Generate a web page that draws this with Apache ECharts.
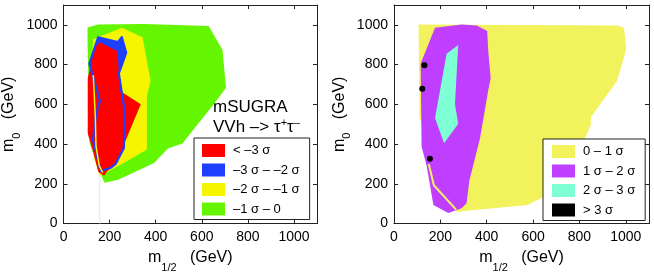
<!DOCTYPE html>
<html><head><meta charset="utf-8">
<script src="https://cdn.jsdelivr.net/npm/echarts@6/dist/echarts.min.js"></script>
<style>html,body{margin:0;padding:0;background:#fff}#c{width:654px;height:278px}</style>
</head><body><div id="c"></div>
<script>
// ---- tick labels ----
const xTicks = [0, 200, 400, 600, 800, 1000];
const yTicks = [0, 200, 400, 600, 800, 1000];

// ---- left panel: mSUGRA VVh -> tau tau (regions in m1/2, m0 GeV) ----
const leftNames = ['< –3 σ', '–3 σ – –2 σ', '–2 σ – –1 σ', '–1 σ – 0'];
const leftGreen = [[104,987],[150,1002],[349,1005],[630,994],[690,874],[705,683],[651,599],[539,437],[516,403],[453,378],[393,305],[237,221],[178,205],[164,241],[113,403],[104,928]];
const leftYellow = [[128,928],[254,985],[343,938],[378,717],[362,646],[362,373],[267,309],[185,257],[157,241],[129,339],[116,634]];
const leftBlue = [[150,937],[236,914],[253,938],[272,860],[240,756],[264,576],[262,380],[226,300],[205,281],[161,265],[128,421],[142,555],[158,617],[112,804]];
const leftRed = [[135,887],[157,912],[235,867],[244,668],[335,601],[270,420],[247,354],[221,290],[190,265],[176,241],[151,260],[126,373],[105,452],[105,732]];
const leftYellowLine = [[129,748],[138,535],[141,388],[155,290],[170,257]];
const leftFaintLine = [[157,0],[157,240]];

// ---- right panel ----
const rightNames = ['0 – 1 σ', '1 σ – 2 σ', '2 σ – 3 σ', '> 3 σ'];
const rightYellow = [[106,1002],[964,997],[992,986],[1002,879],[962,717],[849,535],[849,496],[777,306],[690,159],[575,93],[270,60],[110,535]];
const rightPurple = [[177,986],[292,1002],[357,997],[402,969],[407,863],[417,732],[407,674],[371,429],[325,216],[313,102],[292,77],[234,53],[170,93],[141,290],[119,388],[115,805]];
const rightCyan = [[227,855],[277,899],[263,601],[277,502],[216,404],[177,532]];
const rightDots = [[131,797],[122,679],[155,326]];
const rightYellowLine = [[150,300],[172,193],[268,70]];

const FONT = 'Liberation Sans, Arial, Helvetica, sans-serif';
const C = {
  red: '#ff0000', blue: '#1f3fff', yellow: '#f5f500', green: '#64f500',
  ryellow: '#f2f25c', purple: '#bf3eff', cyan: '#7fffd4', black: '#000000'
};

function poly(name, pts, color, ax, stroke) {
  return {
    type: 'custom', name: name, xAxisIndex: ax, yAxisIndex: ax,
    data: pts, silent: true, animation: false,
    itemStyle: { color: color },
    renderItem: function (params, api) {
      if (params.dataIndex !== 0) return;
      const points = pts.map(p => api.coord(p));
      return {
        type: 'polygon', shape: { points: points },
        style: stroke ? { fill: 'none', stroke: color, lineWidth: 2.2, lineJoin: 'round' }
                      : { fill: color }
      };
    }
  };
}
function line(pts, color, ax, w) {
  return { type: 'line', data: pts, xAxisIndex: ax, yAxisIndex: ax, showSymbol: false,
    silent: true, animation: false, lineStyle: { color: color, width: w } };
}

function xAx(grid, pos, withName) {
  const a = {
    gridIndex: grid, type: 'value', min: 0, max: 1100, interval: 200, position: pos,
    axisLine: { show: true, onZero: false, lineStyle: { color: '#222', width: 1 } },
    axisTick: { show: true, inside: true, length: 4, lineStyle: { color: '#222' } },
    splitLine: { show: false },
    axisLabel: { show: withName, margin: 7, fontSize: 14, fontFamily: FONT, color: '#000',
      formatter: v => xTicks.includes(v) ? String(v) : '' }
  };
  if (withName) {
    a.name = '{m|m}{s|1/2}{n|   (GeV)}';
    a.nameLocation = 'middle';
    a.nameGap = 16;
    a.nameTextStyle = { fontFamily: FONT, color: '#000', fontSize: 16,
      rich: { m: { fontSize: 16, fontFamily: FONT }, s: { fontSize: 11, fontFamily: FONT, padding: [20,0,0,0] },
              n: { fontSize: 16, fontFamily: FONT } } };
  }
  return a;
}
function yAx(grid, pos, withName) {
  const a = {
    gridIndex: grid, type: 'value', min: 0, max: 1100, interval: 200, position: pos,
    axisLine: { show: true, onZero: false, lineStyle: { color: '#222', width: 1 } },
    axisTick: { show: true, inside: true, length: 4, lineStyle: { color: '#222' } },
    splitLine: { show: false },
    axisLabel: { show: withName, margin: 6, fontSize: 14, fontFamily: FONT, color: '#000',
      formatter: v => yTicks.includes(v) ? String(v) : '' }
  };
  if (withName) {
    a.name = '{m|m}{s|0}{n|   (GeV)}';
    a.nameLocation = 'middle';
    a.nameGap = 33;
    a.nameTextStyle = { fontFamily: FONT, color: '#000', fontSize: 16,
      rich: { m: { fontSize: 16, fontFamily: FONT }, s: { fontSize: 11, fontFamily: FONT, padding: [16,0,0,0] },
              n: { fontSize: 16, fontFamily: FONT } } };
  }
  return a;
}

function legendCfg(names, colors, left, top, pad) {
  return {
    orient: 'vertical', left: left, top: top, icon: 'rect',
    itemWidth: 23, itemHeight: 13, itemGap: 6.5, selectedMode: false,
    data: names.map((n, i) => ({ name: n, itemStyle: { color: colors[i], opacity: 1 } })),
    backgroundColor: '#fff', borderColor: '#222', borderWidth: 1, borderRadius: 0,
    padding: pad,
    textStyle: { fontFamily: FONT, fontSize: 13, color: '#000', padding: [0,0,0,3] }
  };
}

const chart = echarts.init(document.getElementById('c'), null, { renderer: 'canvas' });
chart.setOption({
  animation: false,
  grid: [
    { left: 62, top: 5, width: 255, height: 224 },
    { left: 394, top: 5, width: 255, height: 224 }
  ],
  xAxis: [xAx(0, 'bottom', true), xAx(0, 'top', false), xAx(1, 'bottom', true), xAx(1, 'top', false)],
  yAxis: [yAx(0, 'left', true), yAx(0, 'right', false), yAx(1, 'left', true), yAx(1, 'right', false)],
  legend: [
    legendCfg(leftNames, [C.red, C.blue, C.yellow, C.green], 194, 138, [6, 10, 4, 8]),
    legendCfg(rightNames, [C.ryellow, C.purple, C.cyan, C.black], 543, 139, [6, 10, 4, 9])
  ],
  graphic: [
    { type: 'text', left: 213, top: 99, silent: true,
      style: { text: 'mSUGRA', fontSize: 17, fontFamily: FONT, fill: '#000' } },
    { type: 'text', left: 213, top: 117, silent: true,
      style: { text: 'VVh –> τ{sup|+}τ{sup|–}', fontSize: 17, fontFamily: FONT, fill: '#000',
        rich: { sup: { fontSize: 11, fontFamily: FONT, padding: [0,0,9,0] } } } }
  ],
  series: [
    line(leftFaintLine, '#dfe3f3', 0, 1),
    poly(leftNames[3], leftGreen, C.green, 0),
    poly(leftNames[2], leftYellow, C.yellow, 0),
    poly(leftNames[1], leftBlue, C.blue, 0),
    poly(leftNames[0], leftRed, C.red, 0),
    line(leftYellowLine, C.yellow, 0, 1.5),
    poly('', leftBlue, C.blue, 0, true),
    poly(rightNames[0], rightYellow, C.ryellow, 2),
    poly(rightNames[1], rightPurple, C.purple, 2),
    poly(rightNames[2], rightCyan, C.cyan, 2),
    line(rightYellowLine, C.ryellow, 2, 2),
    { type: 'scatter', name: rightNames[3], xAxisIndex: 2, yAxisIndex: 2, data: rightDots,
      symbol: 'circle', symbolSize: 6, itemStyle: { color: C.black, opacity: 1 }, silent: true, animation: false }
  ]
});
</script>
</body></html>
